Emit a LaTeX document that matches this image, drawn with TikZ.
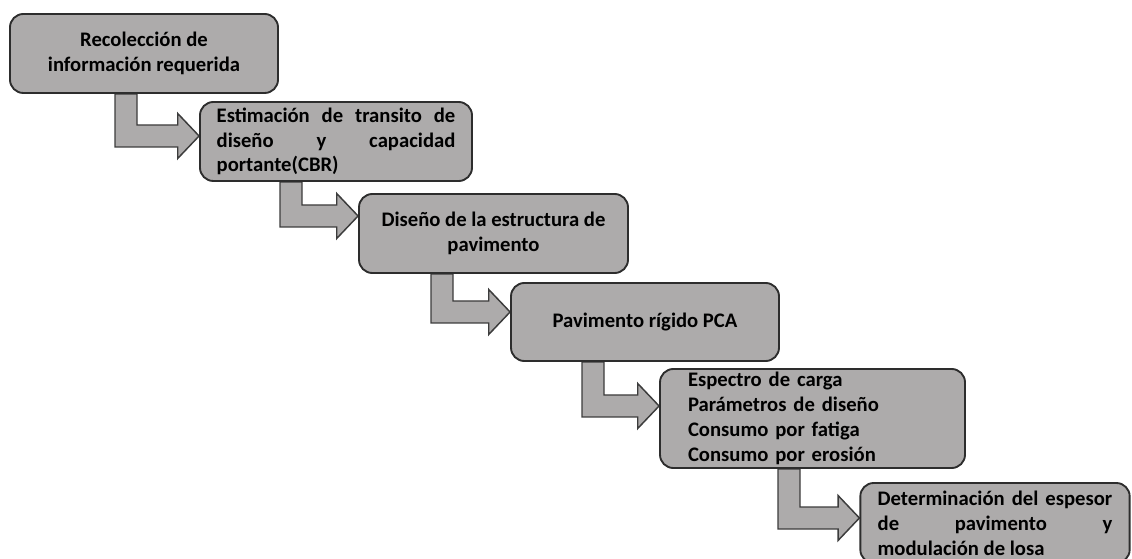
\documentclass[tikz,border=0pt]{standalone}
\usepackage{fontspec}
\setmainfont{Carlito}
\usetikzlibrary{calc,backgrounds}

\definecolor{boxfill}{RGB}{173,171,171}
\definecolor{boxline}{RGB}{45,45,45}
\definecolor{arrline}{RGB}{60,60,60}

\tikzset{
  stepbox/.style={draw=boxline, fill=boxfill, line width=1.4pt, rounded corners=10pt,
    inner sep=2pt, font=\fontsize{15.5}{18.5}\selectfont\bfseries},
  bentarrow/.style={draw=arrline, fill=boxfill, line width=1.1pt, line join=miter}
}

\begin{document}
\begin{tikzpicture}[x=0.75pt,y=-0.75pt]
			\useasboundingbox (0,0) rectangle (1132,559);
			% steps
			\node[stepbox, minimum width=201pt, minimum height=59.25pt, align=center] (recol) at (144,53.5)
				{Recolección de\\información requerida};
			\node[stepbox, minimum width=204pt, minimum height=59.25pt, text width=179pt, align=justify] (transito) at (336,141.5)
				{Estimación de transito de\linebreak diseño y capacidad\linebreak portante(CBR)};
			\node[stepbox, minimum width=201.75pt, minimum height=59.25pt, align=center] (diseno) at (493.5,233.5)
				{Diseño de la estructura de\\pavimento};
			\node[stepbox, minimum width=201pt, minimum height=58.5pt, align=center] (pca) at (645,322)
				{Pavimento rígido PCA};
			\node[stepbox, minimum height=74.25pt, inner xsep=21pt, text width=186.75pt, align=left,
				font=\fontsize{15.5}{18.8}\selectfont\bfseries] (espectro) at (812.5,418.5)
				{Espectro de carga\\Parámetros de diseño\\Consumo por fatiga\\Consumo por erosión};
			\node[stepbox, minimum height=60pt, inner xsep=13pt, text width=176pt, align=justify,
				font=\fontsize{15.5}{18.8}\selectfont\bfseries] (espesor) at (995,523)
				{Determinación del espesor\linebreak de pavimento y\linebreak modulación de losa};
			% bent arrows between steps
			\begin{scope}[on background layer]
			\foreach \from/\to/\cx/\cy in {recol/transito/115/147, transito/diseno/280/227,
				diseno/pca/431/323, pca/espectro/582/417, espectro/espesor/778/529}{
				\coordinate (k) at (\cx,\cy);
				\draw[bentarrow] let \p1=(k), \p2=(\from.south), \p3=(\to.west) in
					(\x1,\y2) -- (\x1,\y1) -- (\x3-16pt,\y1) -- (\x3-16pt,\y1-8.6pt) -- (\x3,\y1+8.25pt)
					-- (\x3-16pt,\y1+25.1pt) -- (\x3-16pt,\y1+16.5pt) -- (\x1+16.5pt,\y1+16.5pt)
					-- (\x1+16.5pt,\y2) -- cycle;
			}
			\end{scope}
\end{tikzpicture}
\end{document}
